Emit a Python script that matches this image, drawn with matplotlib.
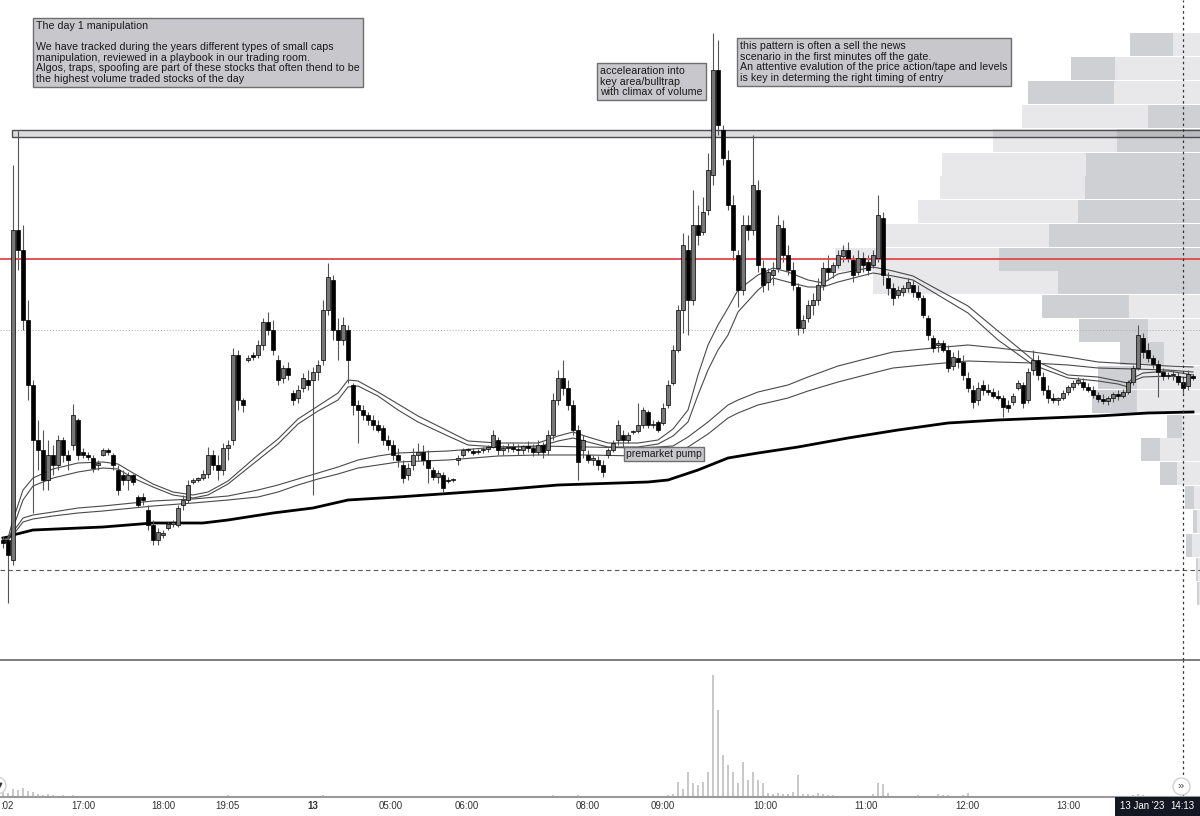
import numpy as np
import matplotlib
matplotlib.use("Agg")
import matplotlib.pyplot as plt
from matplotlib.patches import Rectangle
from matplotlib.transforms import blended_transform_factory

plt.rcParams['font.family'] = ['Liberation Sans', 'DejaVu Sans']

# ---- candles (price in cents, one bar per index) ----
bar_open = [460, 460, 440, 770, 750, 680, 615, 560, 550, 520, 545, 535, 560, 545, 555, 580, 548, 545, 542, 535,
            545, 550, 545, 530, 525, 520, 525, 503, 503, 490, 475, 460, 465, 472, 476, 475, 495, 500, 518, 520,
            522, 526, 545, 535, 530, 552, 560, 645, 600, 640, 645, 645, 655, 678, 670, 640, 622, 632, 607, 602,
            612, 620, 620, 628, 640, 690, 720, 670, 660, 670, 615, 595, 590, 585, 580, 575, 572, 560, 555, 545,
            535, 525, 535, 545, 548, 540, 530, 523, 525, 520, 520, 540, 545, 550, 549, 548, 550, 551, 553, 560,
            550, 552, 553, 551, 550, 554, 552, 548, 555, 550, 565, 600, 622, 612, 595, 570, 550, 545, 540, 540,
            535, 545, 550, 560, 565, 560, 568, 569, 575, 588, 575, 578, 577, 595, 617, 650, 690, 750, 700, 775,
            768, 790, 825, 930, 870, 840, 795, 745, 710, 775, 770, 810, 732, 718, 725, 732, 772, 745, 730, 713,
            672, 682, 695, 700, 715, 732, 728, 735, 744, 750, 740, 728, 742, 738, 735, 742, 782, 722, 712, 705,
            708, 712, 715, 708, 702, 682, 662, 655, 657, 650, 634, 642, 638, 622, 610, 600, 615, 610, 608, 604,
            602, 595, 598, 612, 615, 600, 630, 640, 623, 610, 602, 600, 602, 608, 613, 617, 618, 613, 610, 605,
            601, 599, 602, 606, 604, 608, 618, 632, 662, 650, 642, 636, 628, 624, 625, 624, 618, 614, 624]
bar_high = [464, 465, 835, 869, 775, 700, 620, 580, 570, 560, 555, 565, 563, 550, 596, 582, 552, 548, 545, 540,
            552, 552, 547, 535, 530, 528, 526, 505, 507, 495, 480, 472, 470, 478, 480, 495, 505, 520, 522, 523,
            530, 553, 550, 545, 557, 560, 652, 650, 602, 645, 648, 660, 682, 688, 680, 645, 635, 638, 610, 615,
            627, 630, 633, 640, 700, 737, 725, 682, 683, 675, 617, 600, 595, 588, 585, 580, 575, 565, 560, 552,
            540, 537, 552, 557, 555, 550, 533, 530, 528, 523, 522, 545, 552, 552, 552, 551, 553, 555, 570, 563,
            555, 557, 557, 556, 555, 559, 556, 560, 558, 570, 607, 630, 640, 620, 600, 575, 565, 550, 545, 544,
            540, 552, 560, 580, 570, 568, 570, 597, 593, 590, 580, 580, 597, 620, 655, 695, 767, 765, 810, 795,
            803, 847, 967, 960, 875, 850, 805, 750, 785, 785, 865, 820, 740, 732, 738, 785, 780, 755, 738, 717,
            685, 700, 707, 722, 738, 745, 738, 750, 755, 758, 745, 750, 748, 745, 750, 805, 788, 728, 717, 714,
            715, 722, 720, 715, 705, 685, 665, 660, 660, 655, 648, 650, 645, 628, 615, 618, 620, 616, 612, 610,
            605, 600, 607, 620, 618, 632, 650, 645, 628, 615, 607, 603, 610, 615, 620, 623, 622, 617, 614, 608,
            606, 604, 608, 610, 611, 620, 635, 675, 667, 657, 645, 640, 632, 628, 629, 628, 622, 630, 626]
bar_low = [452, 397, 435, 730, 670, 600, 487, 530, 510, 510, 525, 530, 538, 530, 550, 540, 542, 540, 528, 530,
           544, 545, 530, 505, 515, 510, 515, 493, 495, 470, 455, 455, 462, 470, 473, 473, 490, 497, 516, 518,
           520, 522, 530, 520, 525, 540, 555, 590, 588, 638, 640, 642, 650, 665, 645, 615, 617, 620, 595, 597,
           608, 610, 505, 620, 635, 685, 660, 640, 655, 617, 585, 557, 580, 575, 570, 568, 555, 550, 540, 533,
           517, 520, 530, 540, 535, 517, 520, 517, 508, 517, 518, 535, 543, 548, 545, 546, 547, 548, 552, 545,
           545, 548, 548, 545, 546, 548, 544, 545, 542, 545, 560, 595, 605, 590, 565, 520, 542, 537, 535, 530,
           523, 542, 548, 555, 553, 557, 566, 567, 572, 572, 572, 568, 575, 592, 615, 648, 667, 665, 695, 755,
           765, 785, 815, 865, 835, 790, 740, 693, 705, 760, 765, 728, 708, 710, 715, 728, 738, 725, 710, 665,
           667, 678, 685, 695, 710, 720, 722, 732, 738, 738, 718, 725, 728, 725, 732, 738, 715, 705, 695, 702,
           704, 708, 703, 700, 682, 660, 648, 648, 648, 628, 630, 632, 620, 608, 592, 595, 605, 605, 602, 600,
           583, 588, 595, 610, 592, 597, 625, 620, 605, 597, 597, 595, 600, 605, 610, 615, 610, 608, 602, 598,
           596, 595, 598, 600, 602, 606, 615, 630, 642, 638, 632, 603, 620, 621, 620, 615, 607, 610, 620]
bar_close = [457, 445, 770, 750, 680, 615, 560, 550, 520, 545, 535, 560, 545, 540, 585, 545, 545, 543, 532, 537,
             550, 548, 535, 510, 520, 525, 518, 495, 500, 475, 460, 468, 467, 476, 478, 492, 500, 515, 520, 522,
             526, 545, 535, 530, 552, 555, 645, 600, 595, 642, 643, 655, 678, 670, 650, 620, 632, 625, 600, 610,
             622, 615, 628, 635, 690, 723, 670, 660, 675, 640, 595, 590, 585, 580, 575, 570, 560, 555, 545, 540,
             522, 532, 545, 548, 540, 532, 523, 527, 512, 519, 521, 542, 550, 550, 547, 549, 551, 553, 565, 550,
             552, 553, 551, 550, 554, 552, 548, 555, 548, 565, 600, 622, 612, 595, 570, 538, 560, 540, 542, 535,
             528, 550, 557, 575, 560, 565, 569, 575, 590, 575, 576, 570, 592, 615, 650, 690, 755, 700, 775, 765,
             788, 830, 930, 875, 842, 795, 750, 710, 775, 770, 815, 735, 715, 728, 730, 775, 745, 730, 715, 672,
             680, 695, 700, 715, 732, 728, 735, 745, 750, 742, 725, 742, 735, 730, 745, 785, 725, 712, 702, 710,
             712, 718, 708, 703, 685, 665, 652, 657, 650, 632, 643, 638, 625, 612, 598, 612, 610, 608, 604, 602,
             593, 592, 604, 617, 597, 628, 640, 625, 610, 602, 600, 602, 607, 613, 617, 620, 613, 610, 605, 601,
             599, 602, 606, 604, 608, 618, 632, 665, 648, 642, 636, 628, 624, 625, 626, 618, 612, 626, 622]
volume = [5, 4, 8, 7, 9, 6, 5, 3, 2, 3,
          2, 1.5, 2, 1.5, 2, 1.5, 1, 1.5, 1, 1,
          1.5, 1, 1, 1.5, 1, 1, 1, 1.5, 1, 1,
          1, 1.5, 1, 1, 1, 1.5, 1, 1, 1, 1.5,
          1, 1, 1.5, 1, 1, 2, 1.5, 1, 1, 1,
          1, 1.5, 1, 1, 1.5, 1, 1, 1, 1.5, 1,
          1, 1, 1.5, 1, 2, 1.5, 1, 1, 1, 1,
          1, 1, 1, 1.5, 1, 1, 1, 1, 1, 1.5,
          1, 1, 1, 1, 1.5, 1, 1, 1, 1, 1,
          1, 1, 1.5, 1, 1, 1, 1, 1, 1.5, 1,
          1, 1, 1, 1, 1, 1.5, 1, 1, 1, 1.5,
          2, 1.5, 1.5, 1, 1, 2, 1, 1, 1, 1,
          1, 1, 1, 1.5, 1, 1, 1, 1, 1.5, 1,
          1, 1, 1.5, 2, 3, 15, 8, 25, 14, 12,
          15, 25, 122, 87, 42, 32, 25, 14, 35, 17,
          25, 17, 14, 4, 3, 4, 3, 3, 5, 22,
          3, 3, 2, 4, 3, 2, 2, 1.5, 1, 1.5,
          1, 1.5, 1, 1, 3, 14, 13, 4, 1.5, 1,
          1.5, 1, 1, 2, 1, 1.5, 1, 3, 2, 2,
          1.5, 1, 2, 4, 1, 1, 1.5, 1, 1, 1,
          1.5, 1, 1, 1, 1.5, 1, 1, 1.5, 1, 1,
          1, 1, 1.5, 1, 1, 1, 1.5, 1, 1, 1,
          1, 1.5, 1, 1, 1, 1.5, 2, 3, 2, 1.5,
          1, 1.5, 1, 1, 1, 1.5, 1, 1, 1]

# ---- moving averages (bar index, price) ----
fast_idx = [0, 1, 2, 4, 6, 10, 15, 20, 23, 26, 30, 34, 38, 41, 45, 51, 55, 59, 63, 67, 69, 71, 75, 79, 83, 89, 93,
            99, 107, 111, 114, 117, 121, 127, 131, 134, 137, 139, 141, 143, 145, 147, 151, 154, 157, 161, 164, 167,
            174, 178, 182, 186, 193, 199, 206, 213, 219, 223, 225, 226, 228, 233, 238]
fast_a = [460, 462, 480, 510, 522, 531, 537, 538, 536, 527, 516, 508, 505, 508, 519, 545, 561, 581, 594, 607, 620,
          619, 608, 596, 584, 569, 559, 557, 557, 564, 568, 563, 557, 557, 560, 571, 590, 625, 655, 675, 692, 710,
          725, 732, 728, 720, 717, 726, 733, 729, 724, 713, 694, 669, 640, 625, 623, 619, 617, 622, 627, 629, 625]
fast_b = [459, 460, 472, 500, 514, 522, 528, 532, 531, 522, 513, 505, 502, 505, 516, 540, 556, 576, 589, 600, 613,
          614, 604, 590, 578, 564, 555, 553, 553, 559, 562, 558, 553, 553, 556, 564, 578, 605, 630, 650, 665, 688,
          710, 722, 718, 713, 713, 718, 727, 724, 720, 708, 687, 660, 635, 622, 619, 616, 613, 619, 623, 624, 622]
slow_idx = [0, 1, 2, 4, 6, 10, 15, 20, 26, 30, 38, 45, 51, 55, 59, 63, 67, 71, 75, 79, 89, 99, 107, 117, 127, 131,
            134, 137, 141, 145, 147, 151, 157, 161, 167, 174, 178, 186, 193, 199, 206, 213, 219, 226, 233, 238]
slow_a = [460, 462, 468, 482, 485, 488, 492, 494, 497, 499, 501, 504, 510, 515, 521, 527, 533, 540, 544, 547, 549,
          553, 554, 553, 552, 553, 554, 563, 578, 595, 600, 608, 615, 623, 634, 643, 648, 652, 655, 652, 648, 643,
          638, 636, 634, 633]
slow_b = [459, 460, 465, 478, 481, 484, 487, 489, 492, 494, 497, 500, 503, 508, 515, 521, 526, 532, 535, 538, 540,
          544, 545, 545, 544, 545, 546, 553, 566, 582, 587, 595, 602, 609, 618, 627, 632, 636, 639, 638, 637, 635,
          632, 631, 630, 628]
long_idx = [0, 1, 2, 6, 20, 30, 40, 45, 54, 62, 69, 79, 99, 111, 129, 133, 139, 145, 151, 159, 169, 179, 189, 199,
            209, 219, 229, 238]
long_ma = [462, 463, 465, 470, 473, 477, 477, 480, 487, 492, 500, 503, 510, 515, 518, 520, 530, 542, 547, 553, 562,
           570, 577, 580, 582, 584, 587, 588]

# ---- volume profile rows (top price, near-edge part, far part) ----
vp_top = [967, 943, 919, 895, 871, 847, 824, 800, 776, 752, 729, 705, 681, 658, 634, 610, 585, 562, 538, 514, 490,
          466, 442, 418]
vp_near = [27, 85, 86, 52, 83, 114, 115, 122, 151, 201, 142, 71, 52, 36, 63, 63, 18, 40, 23, 6, 3, 8, 2, 1]
vp_far = [43, 44, 86, 126, 124, 144, 145, 160, 167, 164, 185, 87, 69, 44, 39, 45, 15, 19, 17, 9, 4, 6, 2, 2]
vp_value_area = [False, False, False, True, True, True, True, True, True, True, True,
                 False, False, False, False, False, False, False, False, False, False, False, False, False]
vp_row = 22.5

# levels / annotations
resistance = 741
zone = (863, 870)
dotted_level = 670
dashed_level = 430
cursor_bar = 236

tick_pos = [16, 32, 44.8, 62, 77.6, 92.8, 117, 132, 152.4, 172.6, 192.8, 213]
tick_lab = ['17:00', '18:00', '19:05', '13', '05:00', '06:00', '08:00', '09:00', '10:00', '11:00',
            '12:00', '13:00']

n = len(bar_close)
idx = np.arange(n)
o, h, l, c = map(np.array, (bar_open, bar_high, bar_low, bar_close))

fig = plt.figure(figsize=(12, 8.16), dpi=100)
W, H = 1200, 816
rect_main = [0, 156 / H, 1, 660 / H]
xlim = (-0.6, 239.4)

# profile sits under the price pane
ax_vp = fig.add_axes(rect_main, zorder=0)
ax_vp.set_xlim(1200, 0)
ax_vp.set_ylim(340, 1000)
ax_vp.axis('off')
light, dark = '#e8e8ea', '#cfd0d3'
for top, near, far, va in zip(vp_top, vp_near, vp_far, vp_value_area):
    cn, cf = (dark, light) if va else (light, dark)
    ax_vp.barh(top - vp_row / 2, near, height=vp_row, left=0, color=cn, lw=0)
    ax_vp.barh(top - vp_row / 2, far, height=vp_row, left=near, color=cf, lw=0)

ax = fig.add_axes(rect_main, zorder=1)
ax.patch.set_visible(False)
ax.set_xlim(*xlim)
ax.set_ylim(340, 1000)
ax.axis('off')

ax.axhline(dotted_level, color='#a8a8a8', lw=0.7, ls=(0, (1, 2)))
ax.axhline(dashed_level, color='#555555', lw=0.8, ls=(0, (4, 3)))
ax.axhline(resistance, color='#e04848', lw=1.3, zorder=4)
ax.add_patch(Rectangle((1.8, zone[0]), 240, zone[1] - zone[0], fc=(0.55, 0.55, 0.58, 0.3),
                       ec='#4d4d4d', lw=1, zorder=2))
ax.axvline(cursor_bar, color='#333333', lw=0.9, ls=(0, (2, 2.5)), zorder=5)

ax.plot(long_idx, long_ma, color='black', lw=2.0, zorder=3)
for xs, ys in ((slow_idx, slow_a), (slow_idx, slow_b), (fast_idx, fast_a), (fast_idx, fast_b)):
    ax.plot(xs, ys, color='#4a4a4a', lw=0.8, zorder=3)

up = c >= o
ax.vlines(idx, l, h, color='#555555', lw=0.8, zorder=3)
body_lo = np.minimum(o, c)
body_h = np.maximum(np.abs(c - o), 1.5)
ax.bar(idx[up], body_h[up], bottom=body_lo[up], width=0.65, color='#777777', edgecolor='black', lw=0.5, zorder=4)
ax.bar(idx[~up], body_h[~up], bottom=body_lo[~up], width=0.65, color='black', edgecolor='black', lw=0.5, zorder=4)

box = dict(boxstyle='square,pad=0.3', fc='#c8c8cc', ec='#6e6e6e', lw=1)
txt = dict(fontsize=7.7, va='top', ha='left', color='#1a1a1a', linespacing=1.07, bbox=box, zorder=6)
ax.text(6.6, 979, "The day 1 manipulation\n\nWe have tracked during the years different types of small caps\n"
        "manipulation, reviewed in a playbook in our trading room.\n"
        "Algos, traps, spoofing are part of these stocks that often thend to be\n"
        "the highest volume traded stocks of the day", **txt)
ax.text(119.4, 934, "accelearation into\nkey area/bulltrap\nwith climax of volume", **txt)
ax.text(147.4, 959, "this pattern is often a sell the news\nscenario in the first minutes off the gate.\n"
        "An attentive evalution of the price action/tape and levels\nis key in determing the right timing of entry",
        **txt)
ax.text(124.6, 551, "premarket pump", fontsize=7.5, va='top', ha='left', color='#1a1a1a',
        bbox=dict(boxstyle='square,pad=0.2', fc='#c8c8cc', ec='#6e6e6e', lw=1), zorder=6)

# ---- volume pane ----
ax_v = fig.add_axes([0, 19 / H, 1, (797 - 660) / H])
ax_v.set_xlim(*xlim)
ax_v.set_ylim(0, 137)
ax_v.bar(idx, volume, width=0.45, color='#c9c9c9', lw=0)
ax_v.axvline(cursor_bar, color='#333333', lw=0.9, ls=(0, (2, 2.5)))
for s in ('left', 'right'):
    ax_v.spines[s].set_visible(False)
ax_v.spines['top'].set_color('#666666')
ax_v.spines['top'].set_linewidth(1.2)
ax_v.spines['bottom'].set_color('#9a9a9a')
ax_v.spines['bottom'].set_linewidth(1.5)
ax_v.set_xticks([])
ax_v.set_yticks([])

ax_v.scatter([235.6], [11], s=150, facecolor='white', edgecolor='#d0d0d0', lw=1, zorder=5)
ax_v.text(235.6, 11, '»', fontsize=8, ha='center', va='center', color='#444444', zorder=6)
ax_v.scatter([-1.2], [12], s=150, facecolor='white', edgecolor='#d0d0d0', lw=1, zorder=5, clip_on=False)
ax_v.scatter([-0.9], [12], s=10, marker='v', color='#333333', zorder=6, clip_on=False)

tr = blended_transform_factory(ax_v.transData, ax_v.transAxes)
for pos, lab in zip(tick_pos, tick_lab):
    ax_v.text(pos, -0.066, lab, transform=tr, ha='center', va='center', fontsize=7, color='#333333',
              fontweight='bold' if lab == '13' else 'normal', clip_on=False)
# first label is cut by the left edge in the original; only its tail shows
ax_v.text(0, -0.066, ':02', transform=ax_v.transAxes, ha='left', va='center', fontsize=7, color='#333333')

fig.add_artist(Rectangle((1115 / W, 0), 85 / W, 19 / H, transform=fig.transFigure, color='#131722', lw=0))
fig.text(1142 / W, 10 / H, "13 Jan '23", color='white', fontsize=7, ha='center', va='center')
fig.text(1182 / W, 10 / H, "14:13", color='white', fontsize=7, ha='center', va='center')

fig.savefig('out.png', dpi=100, facecolor='white')
